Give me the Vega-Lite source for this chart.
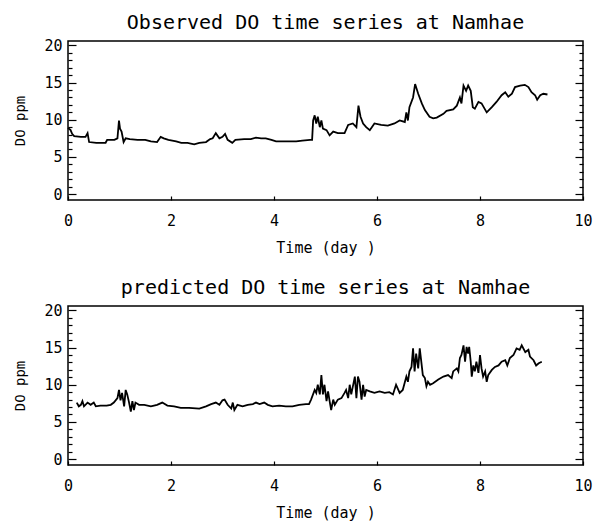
{
  "$schema": "https://vega.github.io/schema/vega-lite/v6.json",
  "padding": {"left": 13, "top": 12, "right": 0, "bottom": 0},
  "spacing": 21,
  "background": "white",
  "config": {
    "view": {"stroke": "black", "strokeWidth": 1.5},
    "axis": {
      "labelFont": "DejaVu Sans Mono", "labelFontSize": 15, "labelColor": "black",
      "titleFont": "DejaVu Sans Mono", "titleFontWeight": "normal", "titleColor": "black",
      "tickColor": "black", "tickWidth": 1.2, "domain": false, "grid": false, "labelFlush": false
    },
    "title": {"font": "DejaVu Sans Mono", "fontSize": 20, "fontWeight": "normal", "color": "black", "anchor": "middle", "offset": 5}
  },
  "datasets": {
    "obs": [
      {"t":0.0,"do":8.9},{"t":0.05,"do":8.6},{"t":0.08,"do":8.1},{"t":0.12,"do":7.8},{"t":0.25,"do":7.7},{"t":0.34,"do":7.7},{"t":0.38,"do":8.2},{"t":0.41,"do":7.0},{"t":0.55,"do":6.9},{"t":0.73,"do":6.9},{"t":0.76,"do":7.3},{"t":0.9,"do":7.3},{"t":0.96,"do":7.5},{"t":0.99,"do":9.9},{"t":1.01,"do":8.8},{"t":1.04,"do":8.4},{"t":1.08,"do":7.0},{"t":1.12,"do":7.5},{"t":1.2,"do":7.4},{"t":1.35,"do":7.3},{"t":1.5,"do":7.3},{"t":1.61,"do":7.1},{"t":1.73,"do":7.0},{"t":1.8,"do":7.7},{"t":1.86,"do":7.5},{"t":1.95,"do":7.3},{"t":2.1,"do":7.1},{"t":2.2,"do":6.9},{"t":2.32,"do":6.9},{"t":2.45,"do":6.7},{"t":2.55,"do":6.9},{"t":2.68,"do":7.0},{"t":2.76,"do":7.4},{"t":2.81,"do":7.5},{"t":2.87,"do":8.2},{"t":2.94,"do":7.5},{"t":3.0,"do":7.7},{"t":3.05,"do":8.1},{"t":3.1,"do":7.3},{"t":3.19,"do":6.9},{"t":3.25,"do":7.3},{"t":3.42,"do":7.4},{"t":3.55,"do":7.4},{"t":3.65,"do":7.6},{"t":3.75,"do":7.5},{"t":3.84,"do":7.5},{"t":3.95,"do":7.3},{"t":4.04,"do":7.1},{"t":4.23,"do":7.1},{"t":4.43,"do":7.1},{"t":4.55,"do":7.2},{"t":4.7,"do":7.3},{"t":4.74,"do":7.3},{"t":4.76,"do":9.9},{"t":4.79,"do":10.6},{"t":4.82,"do":9.5},{"t":4.85,"do":10.4},{"t":4.89,"do":9.0},{"t":4.92,"do":9.9},{"t":4.95,"do":8.8},{"t":5.02,"do":8.6},{"t":5.08,"do":7.9},{"t":5.15,"do":8.4},{"t":5.24,"do":8.2},{"t":5.37,"do":8.2},{"t":5.44,"do":9.3},{"t":5.53,"do":9.5},{"t":5.6,"do":9.0},{"t":5.64,"do":11.9},{"t":5.68,"do":10.4},{"t":5.73,"do":9.5},{"t":5.79,"do":9.0},{"t":5.86,"do":8.6},{"t":5.95,"do":9.5},{"t":6.08,"do":9.3},{"t":6.21,"do":9.2},{"t":6.34,"do":9.5},{"t":6.44,"do":9.9},{"t":6.54,"do":9.7},{"t":6.57,"do":11.0},{"t":6.6,"do":9.9},{"t":6.63,"do":11.7},{"t":6.7,"do":13.0},{"t":6.74,"do":14.8},{"t":6.8,"do":13.5},{"t":6.87,"do":12.2},{"t":6.93,"do":11.3},{"t":7.02,"do":10.4},{"t":7.09,"do":10.2},{"t":7.16,"do":10.3},{"t":7.29,"do":10.8},{"t":7.35,"do":11.2},{"t":7.48,"do":11.4},{"t":7.55,"do":11.9},{"t":7.61,"do":13.0},{"t":7.64,"do":12.2},{"t":7.68,"do":14.6},{"t":7.73,"do":13.9},{"t":7.77,"do":14.6},{"t":7.82,"do":13.9},{"t":7.86,"do":11.7},{"t":7.9,"do":11.5},{"t":7.97,"do":12.4},{"t":8.03,"do":12.2},{"t":8.13,"do":11.0},{"t":8.23,"do":11.7},{"t":8.32,"do":12.4},{"t":8.42,"do":13.3},{"t":8.49,"do":13.7},{"t":8.55,"do":13.1},{"t":8.62,"do":13.5},{"t":8.68,"do":14.4},{"t":8.78,"do":14.6},{"t":8.87,"do":14.7},{"t":8.94,"do":14.4},{"t":9.0,"do":13.7},{"t":9.07,"do":13.3},{"t":9.11,"do":12.7},{"t":9.17,"do":13.3},{"t":9.23,"do":13.5},{"t":9.31,"do":13.4}
    ],
    "pred": [
      {"t":0.17,"do":7.6},{"t":0.21,"do":7.1},{"t":0.25,"do":7.3},{"t":0.28,"do":7.8},{"t":0.31,"do":7.1},{"t":0.38,"do":7.6},{"t":0.44,"do":7.3},{"t":0.5,"do":7.6},{"t":0.54,"do":7.1},{"t":0.63,"do":7.2},{"t":0.75,"do":7.2},{"t":0.83,"do":7.3},{"t":0.89,"do":7.6},{"t":0.96,"do":8.2},{"t":0.99,"do":9.3},{"t":1.02,"do":7.9},{"t":1.05,"do":8.9},{"t":1.09,"do":7.1},{"t":1.12,"do":9.3},{"t":1.15,"do":8.7},{"t":1.18,"do":7.8},{"t":1.22,"do":6.4},{"t":1.25,"do":7.8},{"t":1.28,"do":6.6},{"t":1.31,"do":7.6},{"t":1.38,"do":7.3},{"t":1.48,"do":7.3},{"t":1.61,"do":7.1},{"t":1.73,"do":7.3},{"t":1.83,"do":7.6},{"t":1.93,"do":7.2},{"t":2.06,"do":7.1},{"t":2.19,"do":6.9},{"t":2.35,"do":6.9},{"t":2.55,"do":6.8},{"t":2.68,"do":7.1},{"t":2.78,"do":7.4},{"t":2.87,"do":7.6},{"t":2.94,"do":7.3},{"t":3.0,"do":7.9},{"t":3.04,"do":8.0},{"t":3.1,"do":7.3},{"t":3.17,"do":6.8},{"t":3.2,"do":7.6},{"t":3.23,"do":6.6},{"t":3.29,"do":7.3},{"t":3.39,"do":7.1},{"t":3.49,"do":7.3},{"t":3.59,"do":7.4},{"t":3.65,"do":7.6},{"t":3.72,"do":7.4},{"t":3.81,"do":7.6},{"t":3.88,"do":7.3},{"t":3.97,"do":7.1},{"t":4.1,"do":7.2},{"t":4.23,"do":7.1},{"t":4.36,"do":7.1},{"t":4.49,"do":7.3},{"t":4.62,"do":7.4},{"t":4.68,"do":7.4},{"t":4.72,"do":8.0},{"t":4.79,"do":9.3},{"t":4.82,"do":8.9},{"t":4.85,"do":10.0},{"t":4.89,"do":8.7},{"t":4.92,"do":11.3},{"t":4.95,"do":8.7},{"t":4.98,"do":10.0},{"t":5.02,"do":7.8},{"t":5.05,"do":9.1},{"t":5.08,"do":7.8},{"t":5.11,"do":6.6},{"t":5.15,"do":8.0},{"t":5.18,"do":7.3},{"t":5.24,"do":8.0},{"t":5.31,"do":8.2},{"t":5.37,"do":8.9},{"t":5.4,"do":9.3},{"t":5.44,"do":8.2},{"t":5.47,"do":10.0},{"t":5.5,"do":8.7},{"t":5.57,"do":11.1},{"t":5.6,"do":8.2},{"t":5.63,"do":11.1},{"t":5.66,"do":10.4},{"t":5.7,"do":8.0},{"t":5.73,"do":10.0},{"t":5.76,"do":8.4},{"t":5.79,"do":9.3},{"t":5.86,"do":9.1},{"t":5.95,"do":8.9},{"t":6.05,"do":9.1},{"t":6.15,"do":8.9},{"t":6.24,"do":9.0},{"t":6.31,"do":8.7},{"t":6.37,"do":10.0},{"t":6.44,"do":8.9},{"t":6.5,"do":9.3},{"t":6.57,"do":11.1},{"t":6.6,"do":10.4},{"t":6.63,"do":11.8},{"t":6.67,"do":12.4},{"t":6.7,"do":14.9},{"t":6.73,"do":11.8},{"t":6.76,"do":14.2},{"t":6.8,"do":12.2},{"t":6.83,"do":14.9},{"t":6.86,"do":13.1},{"t":6.89,"do":11.3},{"t":6.93,"do":10.9},{"t":6.96,"do":9.8},{"t":6.99,"do":10.4},{"t":7.03,"do":10.0},{"t":7.09,"do":10.2},{"t":7.19,"do":10.7},{"t":7.29,"do":11.1},{"t":7.38,"do":11.3},{"t":7.45,"do":10.9},{"t":7.48,"do":11.8},{"t":7.55,"do":12.2},{"t":7.58,"do":11.8},{"t":7.61,"do":13.6},{"t":7.64,"do":14.0},{"t":7.68,"do":15.3},{"t":7.71,"do":13.1},{"t":7.74,"do":15.1},{"t":7.77,"do":14.2},{"t":7.79,"do":15.1},{"t":7.82,"do":13.1},{"t":7.84,"do":11.1},{"t":7.87,"do":12.6},{"t":7.9,"do":11.8},{"t":7.93,"do":13.1},{"t":7.97,"do":11.6},{"t":8.0,"do":14.0},{"t":8.03,"do":12.2},{"t":8.06,"do":11.1},{"t":8.1,"do":11.8},{"t":8.13,"do":10.4},{"t":8.16,"do":11.3},{"t":8.23,"do":12.0},{"t":8.29,"do":12.4},{"t":8.36,"do":12.6},{"t":8.42,"do":13.1},{"t":8.49,"do":13.3},{"t":8.53,"do":12.6},{"t":8.58,"do":13.6},{"t":8.65,"do":14.0},{"t":8.71,"do":14.9},{"t":8.77,"do":14.7},{"t":8.81,"do":15.3},{"t":8.88,"do":14.4},{"t":8.94,"do":14.7},{"t":8.97,"do":13.8},{"t":9.04,"do":13.3},{"t":9.09,"do":12.6},{"t":9.14,"do":12.9},{"t":9.2,"do":13.1}
    ]
  },
  "vconcat": [
    {
      "width": 515, "height": 159,
      "title": {"text": "Observed DO time series at Namhae"},
      "data": {"name": "obs"},
      "resolve": {"axis": {"x": "independent", "y": "independent"}},
      "layer": [
        {"mark": {"type": "line", "color": "black", "strokeWidth": 1.8},
         "encoding": {
           "x": {"field": "t", "type": "quantitative", "scale": {"domain": [0, 10], "nice": false, "zero": false},
                 "axis": {"orient": "bottom", "values": [0, 2, 4, 6, 8, 10], "title": "Time (day )", "titleFontSize": 15, "titlePadding": 12, "tickSize": -4, "labelPadding": 17}},
           "y": {"field": "do", "type": "quantitative", "scale": {"domain": [-0.8, 20.6], "nice": false, "zero": false},
                 "axis": {"orient": "left", "values": [0, 5, 10, 15, 20], "title": "DO ppm", "titleFontSize": 14, "titlePadding": 16, "tickSize": -8, "labelPadding": 14}}
         }},
        {"mark": {"type": "line", "opacity": 0},
         "encoding": {
           "x": {"field": "t", "type": "quantitative", "scale": {"domain": [0, 10], "nice": false, "zero": false}, "axis": null},
           "y": {"field": "do", "type": "quantitative", "scale": {"domain": [-0.8, 20.6], "nice": false, "zero": false},
                 "axis": {"orient": "left", "values": [1, 2, 3, 4, 6, 7, 8, 9, 11, 12, 13, 14, 16, 17, 18, 19], "labels": false, "title": null, "tickSize": -4}}
         }},
        {"mark": {"type": "line", "opacity": 0},
         "encoding": {
           "x": {"field": "t", "type": "quantitative", "scale": {"domain": [0, 10], "nice": false, "zero": false}, "axis": null},
           "y": {"field": "do", "type": "quantitative", "scale": {"domain": [-0.8, 20.6], "nice": false, "zero": false},
                 "axis": {"orient": "right", "values": [0, 5, 10, 15, 20], "labels": false, "title": null, "tickSize": -8}}
         }},
        {"mark": {"type": "line", "opacity": 0},
         "encoding": {
           "x": {"field": "t", "type": "quantitative", "scale": {"domain": [0, 10], "nice": false, "zero": false}, "axis": null},
           "y": {"field": "do", "type": "quantitative", "scale": {"domain": [-0.8, 20.6], "nice": false, "zero": false},
                 "axis": {"orient": "right", "values": [1, 2, 3, 4, 6, 7, 8, 9, 11, 12, 13, 14, 16, 17, 18, 19], "labels": false, "title": null, "tickSize": -4}}
         }}
      ]
    },
    {
      "width": 515, "height": 159,
      "title": {"text": "predicted DO time series at Namhae"},
      "data": {"name": "pred"},
      "resolve": {"axis": {"x": "independent", "y": "independent"}},
      "layer": [
        {"mark": {"type": "line", "color": "black", "strokeWidth": 1.8},
         "encoding": {
           "x": {"field": "t", "type": "quantitative", "scale": {"domain": [0, 10], "nice": false, "zero": false},
                 "axis": {"orient": "bottom", "values": [0, 2, 4, 6, 8, 10], "title": "Time (day )", "titleFontSize": 15, "titlePadding": 12, "tickSize": -4, "labelPadding": 17}},
           "y": {"field": "do", "type": "quantitative", "scale": {"domain": [-0.8, 20.6], "nice": false, "zero": false},
                 "axis": {"orient": "left", "values": [0, 5, 10, 15, 20], "title": "DO ppm", "titleFontSize": 14, "titlePadding": 16, "tickSize": -8, "labelPadding": 14}}
         }},
        {"mark": {"type": "line", "opacity": 0},
         "encoding": {
           "x": {"field": "t", "type": "quantitative", "scale": {"domain": [0, 10], "nice": false, "zero": false}, "axis": null},
           "y": {"field": "do", "type": "quantitative", "scale": {"domain": [-0.8, 20.6], "nice": false, "zero": false},
                 "axis": {"orient": "left", "values": [1, 2, 3, 4, 6, 7, 8, 9, 11, 12, 13, 14, 16, 17, 18, 19], "labels": false, "title": null, "tickSize": -4}}
         }},
        {"mark": {"type": "line", "opacity": 0},
         "encoding": {
           "x": {"field": "t", "type": "quantitative", "scale": {"domain": [0, 10], "nice": false, "zero": false}, "axis": null},
           "y": {"field": "do", "type": "quantitative", "scale": {"domain": [-0.8, 20.6], "nice": false, "zero": false},
                 "axis": {"orient": "right", "values": [0, 5, 10, 15, 20], "labels": false, "title": null, "tickSize": -8}}
         }},
        {"mark": {"type": "line", "opacity": 0},
         "encoding": {
           "x": {"field": "t", "type": "quantitative", "scale": {"domain": [0, 10], "nice": false, "zero": false}, "axis": null},
           "y": {"field": "do", "type": "quantitative", "scale": {"domain": [-0.8, 20.6], "nice": false, "zero": false},
                 "axis": {"orient": "right", "values": [1, 2, 3, 4, 6, 7, 8, 9, 11, 12, 13, 14, 16, 17, 18, 19], "labels": false, "title": null, "tickSize": -4}}
         }}
      ]
    }
  ]
}
